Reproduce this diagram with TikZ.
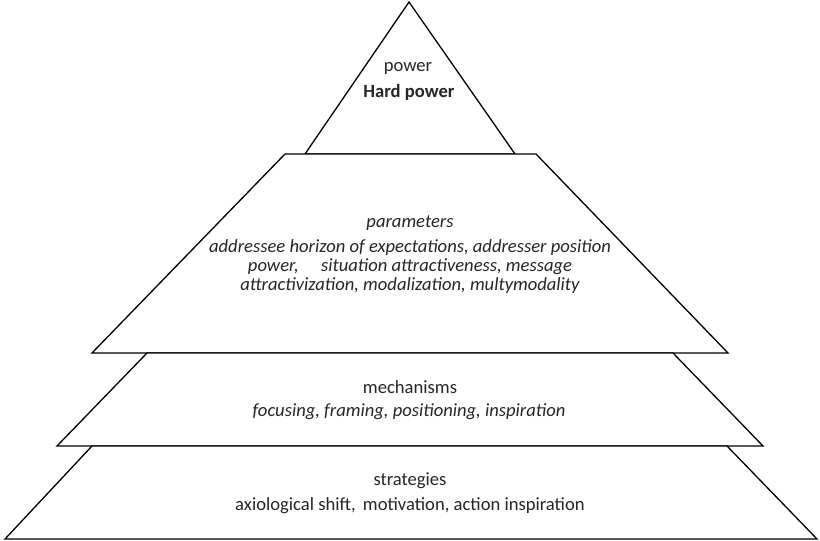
\documentclass[tikz,border=0pt]{standalone}
\usepackage{fontspec}
\setmainfont{Carlito}
\newcommand{\lfs}{\fontsize{18.6}{19}\selectfont}
\begin{document}
\begin{tikzpicture}[x=1pt,y=-1pt,
  layer/.style={draw=black,fill=white,line width=1.3pt,line join=miter},
  lbl/.style={inner sep=0pt,font=\lfs,text=black!85,align=center}]
\useasboundingbox (0,0) rectangle (820,541);
\draw[layer] (409,2) -- (515,154) -- (305,154) -- cycle;
\draw[layer] (285,154) -- (536,154) -- (728,353) -- (92,353) -- cycle;
\draw[layer] (147,353) -- (673,353) -- (763,446) -- (57,446) -- cycle;
\draw[layer] (92,446) -- (727,446) -- (817,539) -- (5,539) -- cycle;
\node[lbl] (pw) at (408,68) {power};
\node[lbl,font=\lfs\bfseries] (hp) at (409,92) {Hard power};
\node[lbl,font=\lfs\itshape] (par) at (410,223) {parameters};
\node[lbl,font=\lfs\itshape] (parl) at (410,267) {addressee horizon of expectations, addresser position\\power,\hspace{1.2em}situation attractiveness, message\\attractivization, modalization, multymodality};
\node[lbl] (mech) at (410,387) {mechanisms};
\node[lbl,font=\lfs\itshape] (mechl) at (409,412) {focusing, framing, positioning, inspiration};
\node[lbl] (str) at (410,481) {strategies};
\node[lbl] (strl) at (410,506) {axiological shift,\, motivation, action inspiration};
\end{tikzpicture}
\end{document}
